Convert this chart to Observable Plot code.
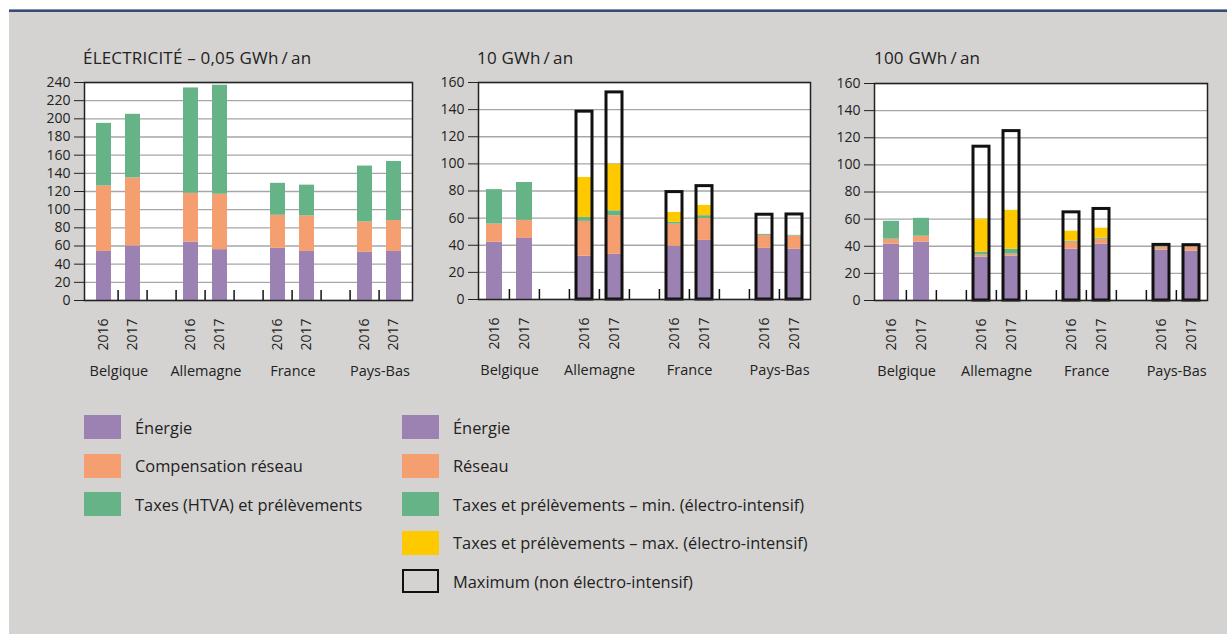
<!DOCTYPE html>
<html>
<head>
<meta charset="utf-8">
<script src="https://cdn.jsdelivr.net/npm/d3@7"></script>
<script src="https://cdn.jsdelivr.net/npm/@observablehq/plot@0.6"></script>
<style>
  html, body { margin: 0; padding: 0; background: #ffffff; width: 1227px; height: 634px; overflow: hidden; }
  body { font-family: "Open Sans", "Noto Sans", sans-serif; color: #222; position: relative; }
  #topline1 { position: absolute; left: 9px; top: 9px; width: 1218px; height: 1px; background: #7f8fb0; }
  #topline2 { position: absolute; left: 9px; top: 10px; width: 1218px; height: 2px; background: #3b4a72; }
  #bg { position: absolute; left: 9px; top: 12px; width: 1218px; height: 622px; background: #d4d3d1; }
  .title { position: absolute; font-size: 17px; color: #222; white-space: nowrap; letter-spacing: 0.2px; }
  .panel { position: absolute; }
  .panel svg { background: transparent !important; overflow: visible; }
  .leg { position: absolute; display: flex; align-items: center; font-size: 16.4px; color: #222; white-space: nowrap; }
  .sw { width: 37px; height: 24px; margin-right: 14px; box-sizing: border-box; flex: none; }
</style>
</head>
<body>
<div id="bg"></div>
<div id="topline1"></div>
<div id="topline2"></div>
<div id="root"></div>
<script>
// ---------- data ----------
const countries = ["Belgique", "Allemagne", "France", "Pays-Bas"];
const years = ["2016", "2017"];
const titles = ["ÉLECTRICITÉ – 0,05 GWh\u2009/\u2009an", "10 GWh\u2009/\u2009an", "100 GWh\u2009/\u2009an"];

// order of values: Belgique 2016, 2017, Allemagne 2016, 2017, France 2016, 2017, Pays-Bas 2016, 2017
const p1Energie      = [54, 60, 64.3, 56, 57.4, 54, 53, 54];
const p1Compensation = [72, 75, 53.7, 61, 36.4, 39, 33.4, 34];
const p1Taxes        = [69, 70, 116, 120, 35.2, 34, 61.6, 65];

const p2Energie  = [42.2, 45, 31.9, 33.3, 39.2, 43.6, 37.7, 37];
const p2Reseau   = [13.4, 13.3, 25.7, 28.5, 16.4, 16.2, 9.6, 9.8];
const p2TaxesMin = [25.4, 28, 2.9, 3.6, 1.3, 2.0, 0.7, 0.5];
const p2TaxesMax = [0, 0, 29.5, 34.4, 7.3, 7.6, 0, 0];
const p2Maximum  = [null, null, 138.5, 152.7, 79.2, 83.6, 62.5, 62.7];

const p3Energie  = [41.6, 43, 32, 32.8, 37.9, 41.6, 37.2, 36.4];
const p3Reseau   = [3.6, 4.4, 1.5, 1.4, 5.1, 3.6, 2.2, 3.0];
const p3TaxesMin = [13.2, 13.2, 2.2, 3.7, 0.8, 0.8, 0.7, 0.2];
const p3TaxesMax = [0, 0, 24.2, 28.6, 7.3, 7.3, 0, 0];
const p3Maximum  = [null, null, 113.4, 124.9, 65, 67.5, 41, 40.8];

const seriesNames = ["energie", "reseau", "taxesMin", "taxesMax"];
const seriesColors = ["#9b82b2", "#f59e6f", "#66b388", "#ffc900"];

const legendLeft = [
  ["Énergie", "#9b82b2"],
  ["Compensation réseau", "#f59e6f"],
  ["Taxes (HTVA) et prélèvements", "#66b388"]
];
const legendRight = [
  ["Énergie", "#9b82b2"],
  ["Réseau", "#f59e6f"],
  ["Taxes et prélèvements – min. (électro-intensif)", "#66b388"],
  ["Taxes et prélèvements – max. (électro-intensif)", "#ffc900"],
  ["Maximum (non électro-intensif)", null]
];

// ---------- helpers ----------
const domain = [];
countries.forEach((c, ci) => {
  years.forEach(y => domain.push(c + "|" + y));
  if (ci < countries.length - 1) domain.push("gap" + ci);
});
const slotKeys = [];
countries.forEach(c => years.forEach(y => slotKeys.push(c + "|" + y)));

function buildRows(seriesArrays) {
  const rows = [];
  slotKeys.forEach((k, i) => {
    seriesArrays.forEach((arr, si) => {
      rows.push({key: k, series: seriesNames[si], value: arr[i] || 0});
    });
  });
  return rows;
}

const root = document.getElementById("root");

function panel({title, ymax, series, maximum, frameLeft, frameTop, frameW, frameH, titleLeft}) {
  const mL = 45, mR = 6, mT = 8, mB = 95;
  const step = frameW / domain.length;
  const rows = buildRows(series);
  const maxRows = maximum ? slotKeys.map((k, i) => ({key: k, value: maximum[i]})).filter(d => d.value != null) : [];
  const ticks = d3.range(0, ymax + 1, 20);
  const chart = Plot.plot({
    width: frameW + mL + mR,
    height: frameH + mT + mB,
    marginLeft: mL, marginRight: mR, marginTop: mT, marginBottom: mB,
    style: {fontFamily: "'Open Sans', 'Noto Sans', sans-serif", fontSize: "14px", color: "#222", background: "transparent"},
    x: {type: "band", domain, padding: 0},
    y: {domain: [0, ymax]},
    color: {domain: seriesNames, range: seriesColors},
    marks: [
      Plot.frame({fill: "white", stroke: "none"}),
      Plot.gridY({ticks, stroke: "#a6a6a6", strokeOpacity: 1, strokeWidth: 1.3}),
      Plot.barY(rows, {x: "key", y: "value", fill: "series", insetLeft: 7, insetRight: 7}),
      Plot.barY(maxRows, {x: "key", y: "value", fill: "none", stroke: "#111", strokeWidth: 3, insetLeft: 7, insetRight: 7}),
      Plot.tickX(domain.slice(1), {x: d => d, dx: -step / 2, insetTop: frameH - 10, stroke: "#111", strokeWidth: 1.5}),
      Plot.axisY({ticks, tickSize: 10, tickPadding: 4, fontSize: 14, label: null, stroke: "#222"}),
      Plot.axisX({tickSize: 0, tickRotate: -90, tickPadding: 18, fontSize: 14, label: null,
        tickFormat: k => k.startsWith("gap") ? "" : k.split("|")[1]}),
      Plot.text(countries, {x: c => c + "|2016", dx: step / 2, text: d => d, frameAnchor: "bottom", dy: 75, fontSize: 14.5, fill: "#222"}),
      Plot.frame({stroke: "#222", strokeWidth: 1.5})
    ]
  });
  const div = document.createElement("div");
  div.className = "panel";
  div.style.left = (frameLeft - mL) + "px";
  div.style.top = (frameTop - mT) + "px";
  div.appendChild(chart);
  root.appendChild(div);

  const t = document.createElement("div");
  t.className = "title";
  t.textContent = title;
  t.style.left = titleLeft + "px";
  t.style.top = "46px";
  root.appendChild(t);
}

panel({title: titles[0], ymax: 240, series: [p1Energie, p1Compensation, p1Taxes],
  frameLeft: 84, frameTop: 82, frameW: 328, frameH: 218, titleLeft: 83});
panel({title: titles[1], ymax: 160, series: [p2Energie, p2Reseau, p2TaxesMin, p2TaxesMax], maximum: p2Maximum,
  frameLeft: 478, frameTop: 82, frameW: 332, frameH: 217, titleLeft: 477});
panel({title: titles[2], ymax: 160, series: [p3Energie, p3Reseau, p3TaxesMin, p3TaxesMax], maximum: p3Maximum,
  frameLeft: 874, frameTop: 83, frameW: 333, frameH: 217, titleLeft: 874});

// ---------- legend ----------
function legendItem(label, color, left, centerY) {
  const el = document.createElement("div");
  el.className = "leg";
  el.style.left = left + "px";
  el.style.top = (centerY - 12) + "px";
  el.style.height = "24px";
  const sw = document.createElement("div");
  sw.className = "sw";
  if (color) sw.style.background = color;
  else { sw.style.border = "2.5px solid #111"; sw.style.background = "transparent"; }
  el.appendChild(sw);
  const tx = document.createElement("span");
  tx.textContent = label;
  el.appendChild(tx);
  root.appendChild(el);
}
const rowY = [427, 465.5, 504, 542.5, 581];
legendLeft.forEach(([l, c], i) => legendItem(l, c, 84, rowY[i]));
legendRight.forEach(([l, c], i) => legendItem(l, c, 402, rowY[i]));
</script>
</body>
</html>
